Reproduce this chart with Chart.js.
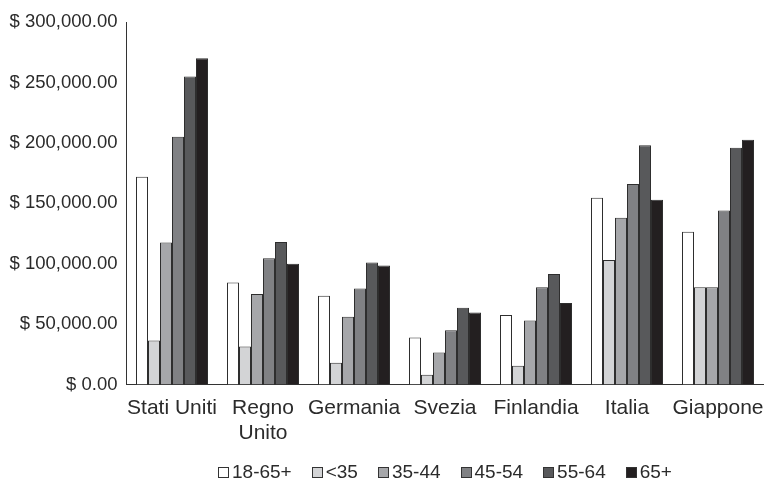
<!DOCTYPE html>
<html>
<head>
<meta charset="utf-8">
<script src="https://cdn.jsdelivr.net/npm/chart.js@4/dist/chart.umd.min.js"></script>
<style>
  html, body { margin: 0; padding: 0; background: #fff; }
  #wrap { width: 767px; height: 482px; position: relative; }
</style>
</head>
<body>
<div id="wrap"><canvas id="c" width="767" height="482"></canvas></div>
<script>
// Countries along the x axis
const countries = ['Stati Uniti', ['Regno', 'Unito'], 'Germania', 'Svezia', 'Finlandia', 'Italia', 'Giappone'];

// Age groups (one series each)
const ageGroups = ['18-65+', '<35', '35-44', '45-54', '55-64', '65+'];

// Values in dollars, one array per age group, ordered like the countries
const age18to65plus = [172000, 84500, 73500, 39000, 57500, 154500, 126500];
const ageUnder35    = [36500, 31500, 18000, 8000, 15500, 103000, 80500];
const age35to44     = [117500, 75000, 56000, 26500, 53000, 138000, 80500];
const age45to54     = [205000, 104500, 79500, 45000, 80500, 166000, 144000];
const age55to64     = [255000, 118000, 101000, 63500, 91500, 198000, 196000];
const age65plus     = [270000, 100000, 98500, 59500, 67500, 153000, 202500];

// Y axis ticks
const yTicks = [0, 50000, 100000, 150000, 200000, 250000, 300000];

const seriesValues = [age18to65plus, ageUnder35, age35to44, age45to54, age55to64, age65plus];
const fills = ['#ffffff', '#d3d4d6', '#a6a7aa', '#808184', '#58595b', '#231f20'];
const FONT = "'Liberation Sans', Arial, sans-serif";
const INK = '#2b2b2b';

// Plot area: 91px per country, 12px per bar, so every bar edge lands on a whole pixel
const AXIS_LEFT = 126.5;
const CATEGORY_W = 91;
const BAR_W = 12;

function money(v) {
  const s = Math.round(v).toString().replace(/\B(?=(\d{3})+(?!\d))/g, ',');
  return '$ ' + s + '.00';
}

// Legend row drawn under the axis labels, centred on the plot area
const bottomLegend = {
  id: 'bottomLegend',
  afterDraw(chart) {
    const ctx = chart.ctx;
    const box = 11, gapText = 3, gapItem = 20, y = 472;
    ctx.save();
    ctx.font = '19px ' + FONT;
    ctx.textBaseline = 'middle';
    const items = chart.data.datasets.map(ds => ({
      label: ds.label, fill: ds.backgroundColor, w: ctx.measureText(ds.label).width
    }));
    const total = items.reduce((a, it) => a + box + gapText + it.w, 0) + gapItem * (items.length - 1);
    const area = chart.chartArea;
    let x = Math.round((area.left + area.right) / 2 - total / 2);
    items.forEach(it => {
      const bx = Math.round(x), by = Math.round(y - box / 2);
      ctx.fillStyle = it.fill;
      ctx.fillRect(bx, by, box, box);
      ctx.strokeStyle = '#333';
      ctx.lineWidth = 1;
      ctx.strokeRect(bx + 0.5, by + 0.5, box - 1, box - 1);
      x += box + gapText;
      ctx.fillStyle = INK;
      ctx.fillText(it.label, x, y + 1);
      x += it.w + gapItem;
    });
    ctx.restore();
  }
};

new Chart(document.getElementById('c'), {
  type: 'bar',
  data: {
    labels: countries,
    datasets: ageGroups.map((g, i) => ({
      label: g,
      data: seriesValues[i],
      backgroundColor: fills[i],
      borderColor: '#2e2e2e',
      borderWidth: 1,
      borderSkipped: 'start',
      inflateAmount: 0,
      categoryPercentage: (BAR_W * ageGroups.length) / CATEGORY_W,
      barPercentage: 1.0
    }))
  },
  options: {
    responsive: false,
    animation: false,
    layout: { padding: { top: 22, right: 767 - AXIS_LEFT - CATEGORY_W * countries.length, bottom: 0, left: 0 } },
    plugins: { legend: { display: false }, tooltip: { enabled: false } },
    scales: {
      x: {
        grid: { display: false, drawTicks: false },
        border: { display: true, color: '#333', width: 1 },
        ticks: {
          color: INK, font: { family: FONT, size: 21 }, padding: 11,
          maxRotation: 0, autoSkip: false
        },
        afterFit(scale) {
          scale.height = 97.5;
          scale.paddingLeft = 0;
          scale.paddingRight = 0;
        }
      },
      y: {
        min: 0, max: 300000,
        grid: { display: false, drawTicks: false },
        border: { display: true, color: '#333', width: 1 },
        afterBuildTicks(scale) { scale.ticks = yTicks.map(v => ({ value: v })); },
        ticks: {
          color: INK, font: { family: FONT, size: 18.5 }, padding: 9,
          callback: v => money(v)
        },
        afterFit(scale) { scale.width = AXIS_LEFT; }
      }
    }
  },
  plugins: [bottomLegend]
});
</script>
</body>
</html>
